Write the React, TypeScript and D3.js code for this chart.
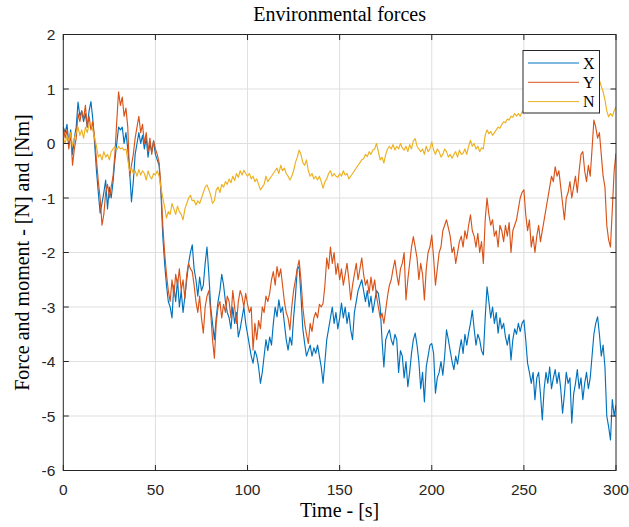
import React from 'react';
import * as d3 from 'd3';

const width = 629;
const height = 527;
const margin = { top: 34.5, right: 13, bottom: 56.5, left: 63.3 };

// sample times (one value per second)
const timeMax = 300;

const xTicks = [0, 50, 100, 150, 200, 250, 300];
const yTicks = [2, 1, 0, -1, -2, -3, -4, -5, -6];

const seriesNames = ['X', 'Y', 'N'];
const seriesColors = ['#0072BD', '#D95319', '#EDB120'];

// X force
const forceX = [
  0.3, 0.2, 0.35, 0.0, 0.25, -0.2, 0.1, 0.3, 0.76, 0.5, 0.6,
  0.4, 0.55, 0.3, 0.6, 0.77, 0.45,
  0.0, -0.5, -0.9, -1.28, -1.1, -0.9,
  -0.67, -1.2, -0.8, -1.0, -0.7,
  -0.3, 0.0, 0.3, 0.25, 0.3,
  0.0, 0.2, -0.1,
  -0.5, -1.07, -0.7,
  -0.2, 0.0, 0.2, 0.0, 0.15,
  -0.1, 0.1, -0.25, 0.0, -0.15, 0.05, -0.2,
  -0.3, -0.4,
  -0.9, -1.7, -2.2, -2.6, -2.9, -3.0,
  -3.2, -2.6, -2.9, -2.5, -3.0, -2.7, -3.1, -2.8, -2.5,
  -2.2, -2.0, -1.86,
  -2.3, -2.5, -2.8, -2.45, -2.7, -2.6,
  -2.2, -1.9, -2.4,
  -3.0, -3.3, -3.6, -3.2,
  -2.9, -2.7, -2.4, -2.6, -2.9, -3.1,
  -3.2, -3.4, -3.0, -3.3, -3.1, -3.55, -3.4, -3.2, -3.0, -3.3,
  -3.5, -3.7, -3.9, -4.03,
  -3.8, -3.9, -4.1, -4.4, -4.2, -3.9,
  -3.6, -3.8, -3.55, -3.7, -3.3,
  -3.0, -3.18, -2.87, -3.1, -3.0,
  -3.3, -3.6, -3.79, -3.55, -3.7,
  -3.2, -2.8, -2.3, -2.26,
  -2.8, -3.4, -3.67, -3.9, -3.8,
  -3.7, -3.9, -3.75, -3.85, -3.7, -3.9, -4.1,
  -4.4,
  -4.0, -3.6, -3.4, -3.2, -3.0, -3.3, -3.1,
  -3.4, -3.2, -2.93, -3.2, -3.0, -3.3, -3.1, -3.42, -3.6,
  -3.1, -2.9, -2.7, -2.6, -2.5, -2.7,
  -2.9, -2.7, -3.0, -2.8, -3.1, -2.9, -2.7, -2.75, -3.0,
  -3.6, -4.1, -3.6,
  -3.5, -3.42, -3.6, -3.7, -3.5, -3.6,
  -4.2, -3.8,
  -3.9, -4.3, -4.0, -4.46, -4.2, -3.85,
  -3.6, -3.48, -3.7, -4.0,
  -4.5, -4.2, -4.74, -4.1,
  -3.9, -3.7, -3.67, -3.85, -4.58, -4.3,
  -4.2, -4.0, -4.25, -3.9,
  -3.42, -3.6,
  -3.8, -4.0, -4.15, -3.9, -4.05,
  -3.8, -3.6, -3.85, -3.5, -3.7, -3.48, -3.3,
  -3.06,
  -3.4, -3.7, -3.5, -3.6, -3.8, -3.88,
  -3.2, -2.63,
  -2.9, -3.2, -3.0, -3.3, -3.1, -3.48, -3.2,
  -3.4, -3.3, -3.55, -3.7, -3.5, -3.97, -3.6, -3.4, -3.5,
  -3.3, -3.45, -3.3, -3.24,
  -3.6, -4.03, -4.2,
  -4.4, -4.2, -4.7, -4.3, -4.2,
  -4.6, -5.07, -4.5,
  -4.2, -4.4, -4.1, -4.5, -4.3, -4.15, -4.4, -4.2, -4.5,
  -4.95, -4.6,
  -4.2, -4.4, -4.3, -5.13,
  -4.6, -4.4, -4.15, -4.5, -4.3, -4.7, -4.4, -4.2, -4.5, -4.3,
  -3.9, -3.5, -3.3, -3.18,
  -3.5, -3.9, -3.7, -4.1,
  -5.0, -5.2, -5.44,
  -4.7, -5.0, -4.8,
];

// Y force
const forceY = [
  0.3, 0.1, 0.25, -0.1, 0.2, -0.4, -0.1, 0.1, 0.55, 0.4, 0.6,
  0.45, 0.7, 0.3, 0.5, 0.25, 0.4,
  0.1, -0.3, -0.7, -1.0, -1.5, -1.3,
  -0.9, -0.75, -1.0, -0.8, -0.6,
  -0.2, 0.4, 0.95, 0.7, 0.85,
  0.5, 0.65, 0.3,
  -0.6, -0.4, -0.2,
  0.1, 0.3, 0.5, 0.2, 0.35,
  0.0, 0.2, -0.15, 0.1, -0.2, 0.05, -0.1,
  -0.2, -0.35,
  -0.8, -1.5, -2.0, -2.4, -2.7,
  -2.9, -2.5, -2.8, -2.4, -2.6, -2.3, -2.7, -2.5, -2.85, -2.4,
  -2.2, -2.3, -2.35,
  -2.6, -2.9, -3.1, -2.8, -3.2, -3.48,
  -3.0, -2.8, -2.7, -3.1,
  -3.6, -3.94, -3.3,
  -3.0, -2.9, -3.2, -2.95, -3.1, -2.8,
  -2.9, -3.2, -2.7, -3.0, -3.3, -2.9, -2.7, -2.8, -3.0, -2.75,
  -2.95, -3.1, -3.0, -3.79,
  -3.3, -3.6, -3.25, -3.4,
  -3.0, -3.1, -2.8, -2.9, -2.75,
  -2.5, -2.35, -2.6, -2.26, -2.45, -2.3, -2.6,
  -2.9, -3.1, -3.2, -3.42,
  -3.0, -2.7, -2.5, -2.3, -2.14,
  -2.5, -3.0, -3.3, -3.5, -3.67,
  -3.3, -3.45, -3.2, -3.1, -3.2, -2.95, -3.0, -2.93,
  -2.6, -2.1, -2.3, -1.9,
  -2.2, -2.0, -2.4,
  -2.2, -2.5, -2.3, -2.6, -2.4, -2.2, -2.5, -2.87,
  -2.6, -2.4, -2.2, -2.5, -2.3, -2.1, -2.4,
  -2.6, -2.5, -2.75, -2.45, -2.7, -2.5, -2.8,
  -3.0, -3.2, -3.11, -3.3, -3.05,
  -2.8, -2.6, -2.5, -2.3, -2.14, -2.4,
  -2.6, -2.3, -2.2, -2.0,
  -2.87, -2.5,
  -2.2, -1.9, -1.71, -1.9, -2.1,
  -2.5, -2.2, -2.4, -2.87,
  -2.3, -2.0, -1.9, -1.68, -2.1, -2.6,
  -2.3, -2.0, -1.9, -1.6, -1.5, -1.4, -1.55, -1.7,
  -2.0, -1.9, -2.2, -2.0,
  -1.8, -1.7, -1.9, -1.6, -1.75, -1.5, -1.31, -1.6,
  -1.7, -1.9, -1.65, -2.0, -1.8, -2.2,
  -1.4, -1.0,
  -1.3, -1.5, -1.4, -1.7, -1.6, -1.9, -1.5,
  -1.6, -1.8, -1.5, -1.7, -1.45, -2.0, -1.6, -1.5, -1.4,
  -1.2, -1.0, -0.9, -0.85, -1.3,
  -1.6, -1.4, -1.9, -1.7,
  -2.0, -1.7, -1.5, -1.8, -1.6, -1.4,
  -1.2, -1.0, -0.8, -0.6, -0.7, -0.43, -0.6, -0.5, -0.8,
  -1.1, -1.4, -1.0,
  -0.9, -0.7, -1.0, -0.8, -0.6, -0.9, -0.5,
  -0.2, -0.15, -0.5, -0.7, -0.4, -0.6,
  -0.1, 0.43, 0.3, 0.1, 0.2,
  -0.2, -0.6, -0.8,
  -1.5, -1.77, -1.9,
  -1.2, -0.5, -0.18,
];

// N moment
const momentN = [
  0.1, 0.0, 0.15, 0.05, 0.2, -0.05, 0.1, 0.2, 0.3, 0.15, 0.25,
  0.1, 0.3, 0.2, 0.35, 0.37, 0.25,
  0.1, -0.05, -0.25, -0.2, -0.3, -0.15,
  -0.25, -0.2, -0.3, -0.15, -0.1,
  -0.06, -0.12, -0.05, -0.1, -0.08, -0.12, -0.1,
  -0.3, -0.5,
  -0.45, -0.55, -0.5, -0.6, -0.48, -0.58, -0.5,
  -0.55, -0.67, -0.5, -0.6, -0.65, -0.55, -0.58,
  -0.5, -0.6,
  -0.8, -1.0, -1.16, -1.37, -1.25, -1.3,
  -1.1, -1.2, -1.3, -1.15, -1.25, -1.3, -1.4,
  -1.2, -1.1, -1.0, -0.95, -1.05,
  -1.04, -1.13, -1.05, -1.1, -1.0, -0.9, -0.8,
  -0.76, -0.85, -0.95,
  -1.1, -1.05,
  -0.85, -0.8, -0.9, -0.75, -0.8, -0.7, -0.75, -0.65, -0.72, -0.6, -0.68, -0.55, -0.62, -0.5, -0.58, -0.49, -0.55,
  -0.6, -0.55, -0.65, -0.6, -0.7, -0.65, -0.75,
  -0.85, -0.8, -0.75,
  -0.6, -0.7, -0.65, -0.6, -0.55,
  -0.5, -0.45, -0.55, -0.4, -0.5, -0.45, -0.55,
  -0.6, -0.67, -0.6, -0.5,
  -0.35, -0.25, -0.12, -0.2,
  -0.35, -0.4, -0.3, -0.5,
  -0.6, -0.55, -0.65, -0.6, -0.67, -0.6, -0.7,
  -0.82,
  -0.7, -0.65, -0.55, -0.5, -0.6, -0.55, -0.6,
  -0.62, -0.55, -0.6, -0.5, -0.58, -0.55, -0.65, -0.6,
  -0.55, -0.5, -0.45, -0.4, -0.35, -0.3, -0.28,
  -0.2, -0.24, -0.15, -0.2, -0.12, -0.1, 0.0,
  -0.15, -0.3, -0.25, -0.36, -0.2, -0.1,
  -0.05, -0.1, -0.02, -0.12, -0.05, -0.1, 0.0, -0.08, -0.12,
  -0.05, -0.15, -0.02, -0.1, 0.05, 0.09, -0.05, -0.1,
  -0.15, -0.1, -0.2, -0.05, -0.15, -0.1, 0.03, -0.12, -0.2, -0.1, -0.15,
  -0.25, -0.2, -0.1, -0.15, -0.25, -0.2, -0.27,
  -0.2, -0.15, -0.25, -0.12, -0.2, -0.18, -0.1, -0.2, -0.05,
  0.06, -0.05, 0.0,
  -0.1, -0.05, -0.15, -0.08, -0.1,
  0.15, 0.25,
  0.18, 0.22, 0.15, 0.2, 0.25,
  0.3, 0.28, 0.35, 0.4, 0.38, 0.45, 0.43, 0.5, 0.48, 0.55, 0.5,
  0.55, 0.5, 0.58, 0.6,
  0.62, 0.6, 0.65, 0.7, 0.68, 0.72, 0.7, 0.75, 0.73, 0.78,
  0.8, 0.77, 0.82, 0.8, 0.85, 0.83, 0.88, 0.86, 0.9, 0.92,
  0.88, 0.95, 0.93, 0.98, 0.96, 1.0, 0.98, 1.03, 1.0, 1.05,
  1.08, 1.04, 1.1, 1.07, 1.12, 1.1, 1.15, 1.13, 1.2, 1.18,
  1.16, 1.05, 0.95, 0.8, 0.6, 0.49, 0.55, 0.5, 0.6, 0.67,
];

const serif = '"Liberation Serif", "Times New Roman", serif';
const sans = '"Liberation Sans", Arial, Helvetica, sans-serif';
const axisColor = '#262626';

export default function App() {
  const x0 = margin.left;
  const x1 = width - margin.right;
  const y0 = margin.top;
  const y1 = height - margin.bottom;

  const xScale = d3.scaleLinear().domain([0, timeMax]).range([x0, x1]);
  const yScale = d3.scaleLinear().domain([-6, 2]).range([y1, y0]);

  const line = d3
    .line<number>()
    .x((_, i) => xScale(i))
    .y(d => yScale(d));

  const series = [forceX, forceY, momentN];
  const tickLen = 5.5;

  // legend box
  const lg = { x: 523, y: 50.5, w: 76.5, h: 62.5 };

  return (
    <div style={{ position: 'absolute', left: 0, top: 0 }}>
      <svg width={width} height={height} style={{ display: 'block', background: '#fff' }}>
        <defs>
          <clipPath id="plotClip">
            <rect x={x0} y={y0} width={x1 - x0} height={y1 - y0} />
          </clipPath>
        </defs>

        {/* grid */}
        {xTicks.slice(1, -1).map(t => (
          <line key={'gx' + t} x1={xScale(t)} x2={xScale(t)} y1={y0} y2={y1} stroke="#dfdfdf" strokeWidth={1} />
        ))}
        {yTicks.slice(1, -1).map(t => (
          <line key={'gy' + t} x1={x0} x2={x1} y1={yScale(t)} y2={yScale(t)} stroke="#dfdfdf" strokeWidth={1} />
        ))}

        {/* data */}
        <g clipPath="url(#plotClip)">
          {series.map((s, i) => (
            <path key={seriesNames[i]} d={line(s) || ''} fill="none" stroke={seriesColors[i]} strokeWidth={1.15} strokeLinejoin="round" />
          ))}
        </g>

        {/* box + ticks */}
        <rect x={x0} y={y0} width={x1 - x0} height={y1 - y0} fill="none" stroke={axisColor} strokeWidth={1} />
        {xTicks.map(t => (
          <g key={'tx' + t}>
            <line x1={xScale(t)} x2={xScale(t)} y1={y1} y2={y1 - tickLen} stroke={axisColor} />
            <line x1={xScale(t)} x2={xScale(t)} y1={y0} y2={y0 + tickLen} stroke={axisColor} />
            <text x={xScale(t)} y={y1 + 24} textAnchor="middle" fontFamily={sans} fontSize={15.5} fill={axisColor}>
              {t}
            </text>
          </g>
        ))}
        {yTicks.map(t => (
          <g key={'ty' + t}>
            <line x1={x0} x2={x0 + tickLen} y1={yScale(t)} y2={yScale(t)} stroke={axisColor} />
            <line x1={x1} x2={x1 - tickLen} y1={yScale(t)} y2={yScale(t)} stroke={axisColor} />
            <text x={x0 - 8} y={yScale(t) + 5.5} textAnchor="end" fontFamily={sans} fontSize={15.5} fill={axisColor}>
              {t}
            </text>
          </g>
        ))}

        {/* labels */}
        <text x={(x0 + x1) / 2} y={21} textAnchor="middle" fontFamily={serif} fontSize={20} fill="#000">
          Environmental forces
        </text>
        <text x={(x0 + x1) / 2} y={517} textAnchor="middle" fontFamily={serif} fontSize={20} fill="#000">
          Time - [s]
        </text>
        <text
          transform={`translate(29, ${(y0 + y1) / 2}) rotate(-90)`}
          textAnchor="middle"
          fontFamily={serif}
          fontSize={20}
          fill="#000"
        >
          Force and moment - [N] and [Nm]
        </text>

        {/* legend */}
        <rect x={lg.x} y={lg.y} width={lg.w} height={lg.h} fill="#fff" stroke={axisColor} strokeWidth={1} />
        {seriesNames.map((name, i) => (
          <g key={'lg' + name}>
            <line x1={lg.x + 5} x2={lg.x + 56} y1={lg.y + 12.5 + i * 19.3} y2={lg.y + 12.5 + i * 19.3} stroke={seriesColors[i]} strokeWidth={1} />
            <text x={lg.x + 60} y={lg.y + 18 + i * 19.3} fontFamily={serif} fontSize={16} fill="#000">
              {name}
            </text>
          </g>
        ))}
      </svg>
    </div>
  );
}
